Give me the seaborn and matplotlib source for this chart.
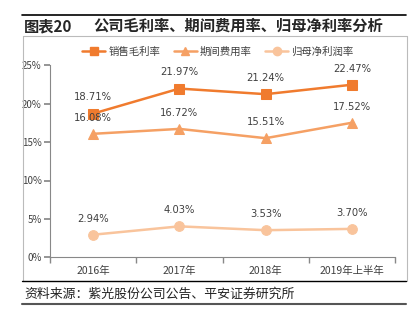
import matplotlib
matplotlib.use("Agg")
import matplotlib.pyplot as plt
import seaborn as sns
import pandas as pd
from matplotlib.lines import Line2D

sns.set_theme(style="white")
plt.rcParams['font.family'] = ['Noto Sans CJK SC', 'DejaVu Sans']

categories = ["2016年", "2017年", "2018年", "2019年上半年"]
gross_margin = [18.71, 21.97, 21.24, 22.47]
expense_rate = [16.08, 16.72, 15.51, 17.52]
net_margin = [2.94, 4.03, 3.53, 3.70]
series_names = ["销售毛利率", "期间费用率", "归母净利润率"]
yticks = [0, 5, 10, 15, 20, 25]

colors = ["#F07B2E", "#F5A064", "#F9C49C"]
markers = ["s", "^", "o"]

fig = plt.figure(figsize=(4.16, 3.24), dpi=100)
ax = fig.add_axes([50/416, 1-257.3/324, 345/416, (257.3-65.3)/324])

x = list(range(len(categories)))
for name, vals, c, m in zip(series_names, [gross_margin, expense_rate, net_margin], colors, markers):
    df = pd.DataFrame({"x": x, "y": vals})
    sns.lineplot(data=df, x="x", y="y", ax=ax, color=c, marker=m, markersize=7,
                 linewidth=1.8, markeredgecolor=c, legend=False)
    for xi, v in zip(x, vals):
        ax.annotate(f"{v:.2f}%", (xi, v), xytext=(0, 8), textcoords="offset points",
                    ha="center", va="bottom", fontsize=7.2, color="#404040",
                    family=['DejaVu Sans'])

ax.set_xlim(-0.5, 3.5)
ax.set_ylim(0, 25)
ax.set_yticks(yticks)
ax.set_yticklabels([f"{t}%" for t in yticks], fontsize=7, color="#404040")
ax.set_xticks(x)
ax.set_xticklabels(categories, fontsize=7.5, color="#404040")
ax.set_xticks([-0.5, 0.5, 1.5, 2.5, 3.5], minor=True)
ax.tick_params(axis="x", which="major", length=0, pad=6)
ax.tick_params(axis="x", which="minor", length=4, color="#888888", direction="out", bottom=True)
ax.tick_params(axis="y", length=4, color="#888888", direction="out", left=True, pad=2)
ax.set_xlabel("")
ax.set_ylabel("")
for s in ["top", "right"]:
    ax.spines[s].set_visible(False)
for s in ["left", "bottom"]:
    ax.spines[s].set_color("#888888")
    ax.spines[s].set_linewidth(0.8)

handles = [Line2D([0], [0], color=c, marker=m, markersize=6, linewidth=1.8, markeredgecolor=c)
           for c, m in zip(colors, markers)]
fig.legend(handles, series_names, loc="center", bbox_to_anchor=(218/416, 1-52/324),
           ncol=3, frameon=False, fontsize=7.5, handlelength=2.2, columnspacing=1.3,
           handletextpad=0.3, labelcolor="#404040")

# Title and frame decorations
fig.add_artist(Line2D([22/416, 406/416], [1-15/324, 1-15/324], color="black", linewidth=1.2))
fig.text(24/416, 1-26/324, "图表20", fontsize=11, fontweight="bold", va="center", ha="left")
fig.text(93/416, 1-26/324, "公司毛利率、期间费用率、归母净利率分析", fontsize=11,
         fontweight="bold", va="center", ha="left")
# light gray box
fig.add_artist(Line2D([23/416, 407/416], [1-36/324, 1-36/324], color="#BBBBBB", linewidth=0.8))
fig.add_artist(Line2D([23/416, 23/416], [1-36/324, 1-281/324], color="#BBBBBB", linewidth=0.8))
fig.add_artist(Line2D([407/416, 407/416], [1-36/324, 1-281/324], color="#BBBBBB", linewidth=0.8))
fig.add_artist(Line2D([22/416, 406/416], [1-281/324, 1-281/324], color="black", linewidth=1.0))
fig.text(24/416, 1-294/324, "资料来源：紫光股份公司公告、平安证券研究所", fontsize=9.3,
         style="italic", va="center", ha="left", color="#222222")
fig.add_artist(Line2D([22/416, 406/416], [1-304/324, 1-304/324], color="#555555", linewidth=1.5))

fig.savefig("out.png", dpi=100)
